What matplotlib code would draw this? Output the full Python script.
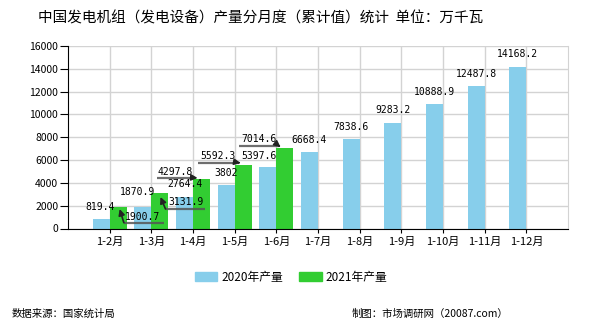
import matplotlib.pyplot as plt
from matplotlib.patches import Patch

plt.rcParams['font.family'] = ['Noto Sans CJK SC', 'DejaVu Sans']

months = ['1-2月', '1-3月', '1-4月', '1-5月', '1-6月', '1-7月',
          '1-8月', '1-9月', '1-10月', '1-11月', '1-12月']
output_2020 = [819.4, 1900.7, 2764.4, 3802, 5397.6, 6668.4,
               7838.6, 9283.2, 10888.9, 12487.8, 14168.2]
output_2021 = [1870.9, 3131.9, 4297.8, 5592.3, 7014.6]
yticks = [0, 2000, 4000, 6000, 8000, 10000, 12000, 14000, 16000]

BLUE = '#87ceeb'
GREEN = '#32cd32'
W = 0.41

# labels that got pushed aside: (text x, text y, underline x0, x1, y, tail side, head x, head y)
moved = {
    (2020, 0): (-0.22, 1886, None),
    (2020, 1): (0.79, 1009, (0.34, 1.30, 509, 'left', 0.24, 1710)),
    (2021, 0): (0.67, 3201, None),
    (2021, 1): (1.82, 2324, (1.34, 2.30, 1710, 'left', 1.22, 2762)),
    (2021, 2): (1.58, 4955, (1.13, 2.02, 4455, 'right', 2.11, 4429)),
    (2021, 3): (2.59, 6358, (2.11, 3.10, 5771, 'right', 3.14, 5744)),
    (2020, 4): (3.58, 6358, None),
    (2021, 4): (3.58, 7849, (3.10, 4.06, 7262, 'right', 4.10, 7148)),
}


def draw_labels(ax, year, xs, values):
    for i, (x, v) in enumerate(zip(xs, values)):
        txt = '{:g}'.format(v)
        key = (year, i)
        if key not in moved:
            ax.annotate(txt, (x, v), xytext=(0, 9), textcoords='offset points',
                        ha='center', va='center', fontsize=7,
                        family='DejaVu Sans Mono', zorder=5)
            continue
        tx, ty, lead = moved[key]
        ax.text(tx, ty, txt, ha='center', va='center', fontsize=7,
                family='DejaVu Sans Mono', zorder=5)
        if lead is None:
            continue
        x0, x1, ly, side, hx, hy = lead
        ax.plot([x0, x1], [ly, ly], color='#555555', lw=1.6, alpha=0.85,
                zorder=4, solid_capstyle='butt')
        tail = x0 if side == 'left' else x1
        ax.annotate('', xy=(hx, hy), xytext=(tail, ly),
                    arrowprops=dict(arrowstyle='-|>', color='#222222', lw=1.2,
                                    mutation_scale=9, shrinkA=0, shrinkB=0),
                    zorder=4)


fig = plt.figure(figsize=(5.9, 3.3), dpi=100)
ax = fig.add_axes([68 / 590, 1 - 228.5 / 330, 500 / 590, 182.5 / 330])

x20 = [i - W / 2 for i in range(len(output_2020))]
x21 = [i + W / 2 for i in range(len(output_2021))]
ax.bar(x20, output_2020, W, color=BLUE, zorder=2)
ax.bar(x21, output_2021, W, color=GREEN, zorder=2)

draw_labels(ax, 2020, x20, output_2020)
draw_labels(ax, 2021, x21, output_2021)

ax.set_xlim(-1, 11)
ax.set_ylim(0, 16000)
ax.set_xticks(range(len(months)))
ax.set_xticklabels(months, fontsize=8)
ax.set_yticks(yticks)
ax.set_yticklabels([str(t) for t in yticks], fontsize=7.5)
ax.grid(color='#d3d3d3', lw=1)
ax.set_axisbelow(True)
ax.tick_params(axis='x', length=3, pad=3, colors='black')
ax.tick_params(axis='y', length=6, pad=1, colors='black')
ax.spines['top'].set_visible(False)
ax.spines['right'].set_color('#d3d3d3')
ax.spines['left'].set_color('black')
ax.spines['bottom'].set_color('black')

fig.text(261 / 590, 1 - 18 / 330,
         '中国发电机组（发电设备）产量分月度（累计值）统计  单位：万千瓦',
         ha='center', va='center', fontsize=10.5)

handles = [Patch(color=BLUE, label='2020年产量'), Patch(color=GREEN, label='2021年产量')]
fig.legend(handles=handles, loc='center', bbox_to_anchor=(291 / 590, 1 - 277 / 330),
           ncol=2, frameon=False, fontsize=8.5, handlelength=1.9, handleheight=0.75,
           handletextpad=0.3, columnspacing=1.4)

fig.text(12 / 590, 1 - 314 / 330, '数据来源：国家统计局', ha='left', va='center', fontsize=7.5)
fig.text(352 / 590, 1 - 314 / 330, '制图：市场调研网（20087.com）', ha='left', va='center',
         fontsize=7.5)

fig.savefig('out.png', dpi=100)
